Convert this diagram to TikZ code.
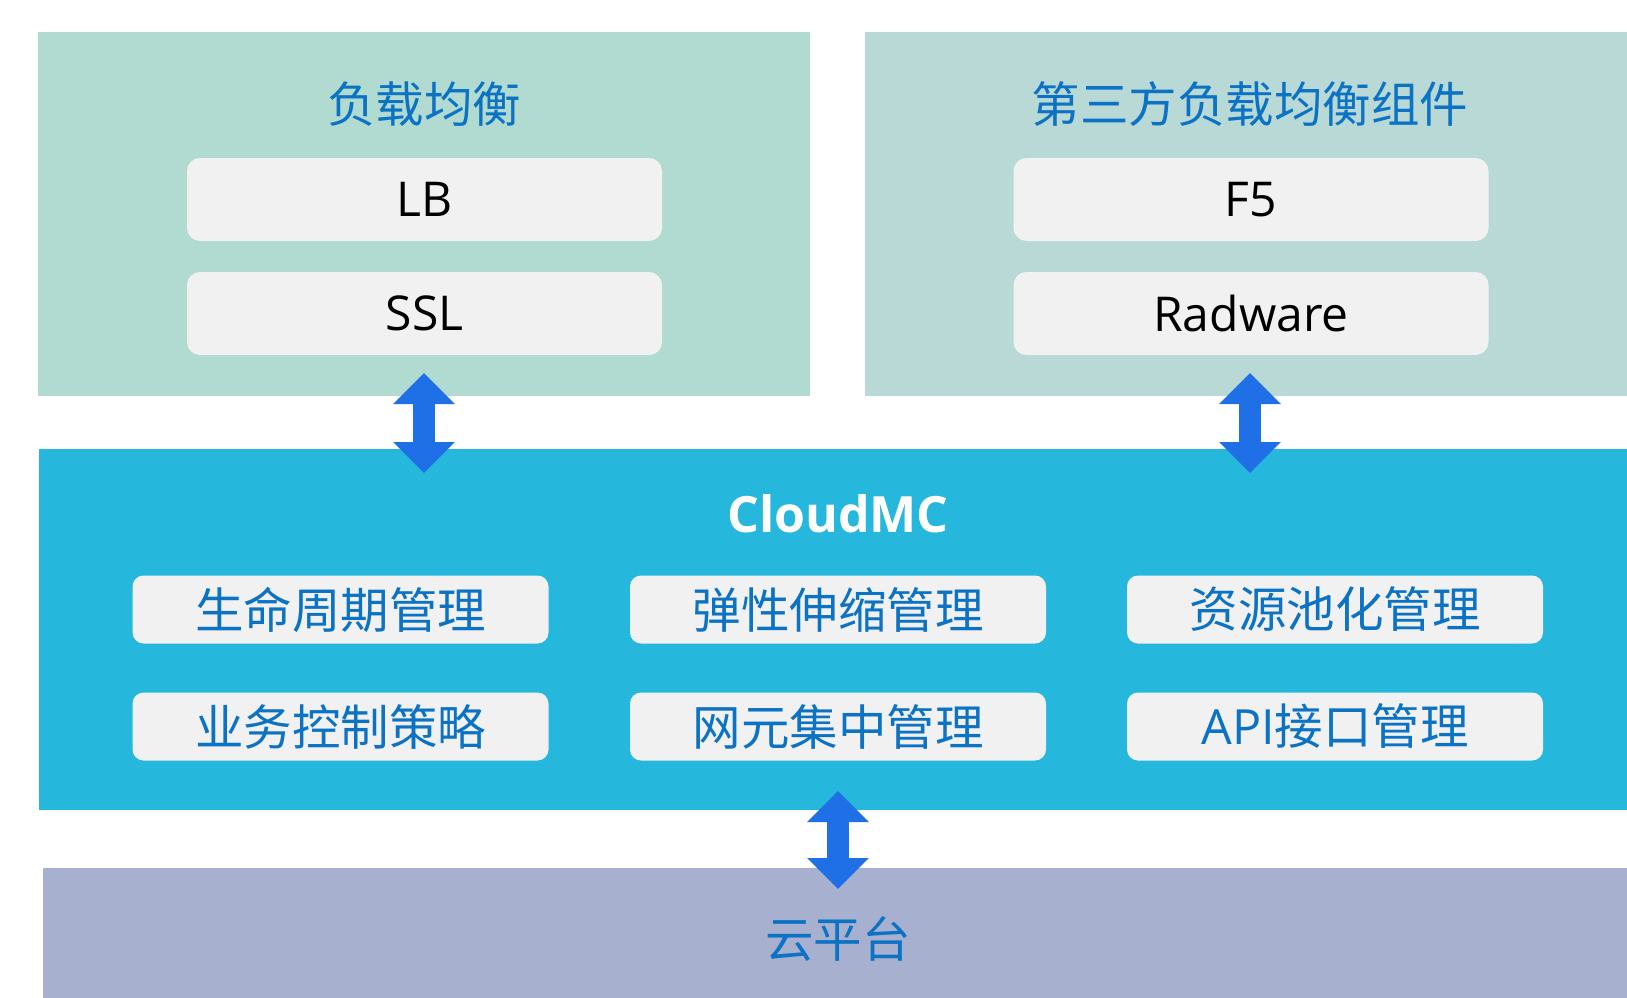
\documentclass[tikz,border=0pt]{standalone}
\usepackage{fontspec}
\setmainfont{Open Sans}
\newfontfamily\cjk{Noto Sans CJK SC}
\usetikzlibrary{arrows.meta}
\definecolor{mintbg}{HTML}{B1DBD0}
\definecolor{tealbg}{HTML}{B9D9D7}
\definecolor{cloudbg}{HTML}{25B7DC}
\definecolor{platbg}{HTML}{A8B0D0}
\definecolor{boxbg}{HTML}{F1F1F1}
\definecolor{titleblue}{HTML}{0B72C4}
\definecolor{arrowblue}{HTML}{1F6FE6}
\tikzset{
  panel/.style={draw=none, inner sep=0pt, outer sep=0pt},
  titletext/.style={text=titleblue, font=\cjk\fontsize{48.5pt}{56pt}\selectfont, inner sep=0pt},
  lbbox/.style={fill=boxbg, rounded corners=13pt, minimum width=475pt, minimum height=83pt, inner sep=0pt,
    text=black, font=\fontsize{48pt}{56pt}\selectfont},
  mgmtbox/.style={fill=boxbg, rounded corners=11pt, minimum width=416pt, minimum height=68pt, inner sep=0pt,
    text=titleblue, font=\cjk\fontsize{48.5pt}{56pt}\selectfont},
  fatarrow/.style={draw=arrowblue, line width=22pt,
    {Triangle[width=60pt,length=31pt]}-{Triangle[width=60pt,length=31pt]}, arrowblue},
}
\begin{document}
\begin{tikzpicture}[x=1pt, y=-1pt]
\useasboundingbox[fill=white] (0,0) rectangle (1627,998);

% panels
\node[panel, fill=mintbg, minimum width=772pt, minimum height=364pt] (lbpanel) at (424,214) {};
\node[panel, fill=tealbg, minimum width=762pt, minimum height=364pt] (tppanel) at (1246,214) {};
\node[panel, fill=cloudbg, minimum width=1588pt, minimum height=361pt] (cmc) at (833,629.5) {};
\node[panel, fill=platbg, minimum width=1584pt, minimum height=130pt] (plat) at (835,933) {};

% titles
\node[titletext] (lbtitle) at (424,104) {负载均衡};
\node[titletext] (tptitle) at (1250,104) {第三方负载均衡组件};
\node[text=white, font=\bfseries\fontsize{50pt}{58pt}\selectfont, inner sep=0pt] (cmctitle) at (838,514) {CloudMC};
\node[titletext] (plattitle) at (838,939) {云平台};

% load balancer boxes
\node[lbbox] (lb) at (424.5,199.5) {LB};
\node[lbbox] (ssl) at (424.5,313.5) {SSL};
\node[lbbox] (f5) at (1251,199.5) {F5};
\node[lbbox] (radware) at (1251,313.5) {Radware};

% CloudMC boxes
\node[mgmtbox] (life) at (340.5,609.5) {生命周期管理};
\node[mgmtbox] (elastic) at (838,609.5) {弹性伸缩管理};
\node[mgmtbox] (pool) at (1335,609.5) {资源池化管理};
\node[mgmtbox] (biz) at (340.5,726.5) {业务控制策略};
\node[mgmtbox] (ne) at (838,726.5) {网元集中管理};
\node[mgmtbox] (api) at (1335,726.5) {{\fontspec{Open Sans}API}接口管理};

% arrows
\coordinate (a1top) at (424,373);
\coordinate (a1bot) at (424,473);
\coordinate (a2top) at (1250,373);
\coordinate (a2bot) at (1250,473);
\coordinate (a3top) at (838,791);
\coordinate (a3bot) at (838,889);
\draw[fatarrow] (a1top) -- (a1bot);
\draw[fatarrow] (a2top) -- (a2bot);
\draw[fatarrow] (a3top) -- (a3bot);
\end{tikzpicture}
\end{document}
